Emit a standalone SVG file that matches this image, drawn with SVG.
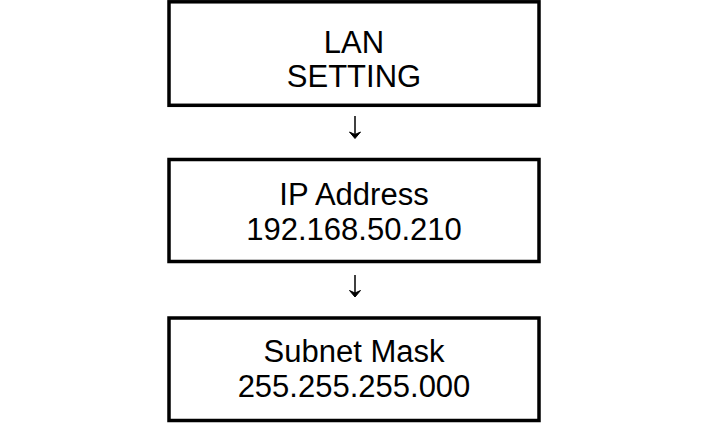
<svg xmlns="http://www.w3.org/2000/svg" width="708" height="425" viewBox="0 0 708 425">
<style>
.box{fill:#fff;stroke:#000;stroke-width:3.5}
.t{font-family:"Liberation Sans",Arial,Helvetica,sans-serif;font-size:31px;fill:#000;text-anchor:middle}
.c{stroke:#000;stroke-width:1.5;fill:none}
.h{fill:#000;stroke:#000;stroke-width:1;stroke-linejoin:miter}
</style>
<rect width="708" height="425" fill="#fff"/>
<g id="node-lan">
<rect class="box" x="169" y="1.8" width="370" height="103.5"/>
<text class="t" x="354" y="53">LAN</text>
<text class="t" x="354" y="87">SETTING</text>
</g>
<g id="node-ip">
<rect class="box" x="169" y="159.5" width="370" height="102"/>
<text class="t" x="354" y="205">IP Address</text>
<text class="t" x="354" y="240">192.168.50.210</text>
</g>
<g id="node-mask">
<rect class="box" x="169" y="318" width="370" height="102.5"/>
<text class="t" x="354" y="362">Subnet Mask</text>
<text class="t" x="354" y="397">255.255.255.000</text>
</g>
<g id="connectors">
<path class="c" d="M355 116V136"/>
<path class="h" d="M349.5 132L355 138.5L360.5 132L355 134.5Z"/>
<path class="c" d="M355 275V294"/>
<path class="h" d="M349.5 290.5L355 297L360.5 290.5L355 293Z"/>
</g>
</svg>
